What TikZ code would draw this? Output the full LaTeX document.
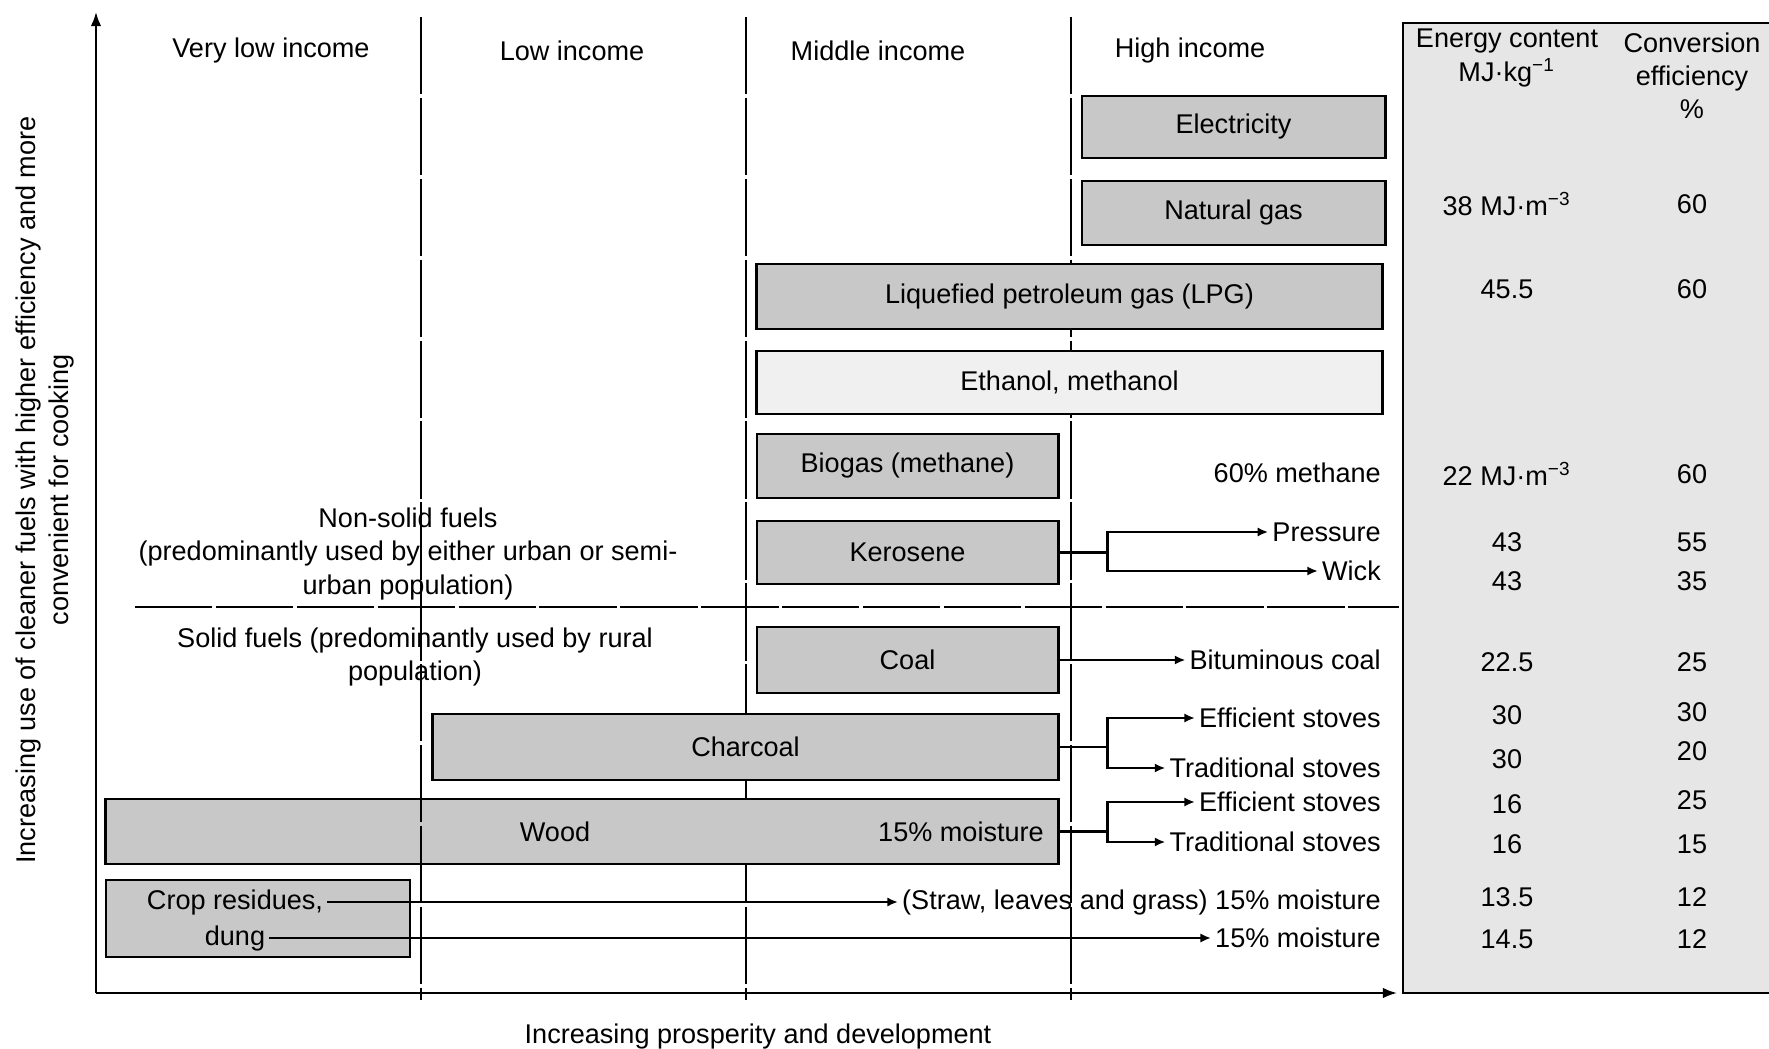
\documentclass[tikz,border=0pt]{standalone}
\usepackage{fontspec}
\setmainfont{Liberation Sans}
\usetikzlibrary{arrows.meta}
\definecolor{boxgray}{RGB}{200,200,200}
\definecolor{lightbox}{RGB}{240,240,240}
\definecolor{panelgray}{RGB}{230,230,230}
\begin{document}
\begin{tikzpicture}[x=0.01cm, y=-0.01cm,
  font=\fontsize{7.7}{9.4}\selectfont,
  fuel/.style={draw, line width=0.8pt, fill=boxgray, inner sep=0pt},
  txt/.style={inner sep=1pt, align=center},
  lbl/.style={inner sep=1pt, anchor=east},
  link/.style={line width=0.7pt},
  arr/.style={line width=0.7pt, -{Latex[length=3pt,width=2.6pt]}},
  sep/.style={line width=0.6pt, dash pattern=on 22pt off 1pt}]
\useasboundingbox (0,0) rectangle (1769,1049);

% value panel
\fill[panelgray] (1403,23) rectangle (1769,993);
\draw[line width=0.8pt] (1769,23) -- (1403,23) -- (1403,993) -- (1769,993);

% income bands
\draw[sep] (746,17) -- (746,1000);
\draw[sep] (1071,17) -- (1071,1000);
\draw[sep] (135,607) -- (1399,607);

% axes
\draw[line width=0.6pt, -{Latex[length=4pt,width=3pt]}] (96,993) -- (96,12);
\draw[line width=0.6pt, -{Latex[length=4pt,width=3pt]}] (96,993) -- (1397,993);

\node[txt] (vlow) at (271,51) {Very low income};
\node[txt] (low) at (572,51) {Low income};
\node[txt] (mid) at (878,51) {Middle income};
\node[txt] (high) at (1190,51) {High income};

% fuels
\node[fuel, minimum width=3.03cm, minimum height=0.62cm] (elec) at (1233.5,127) {Electricity};
\node[fuel, minimum width=3.03cm, minimum height=0.64cm] (ngas) at (1233.5,213) {Natural gas};
\node[fuel, minimum width=6.25cm, minimum height=0.65cm] (lpg) at (1069.5,296.5) {Liquefied petroleum gas (LPG)};
\node[fuel, fill=lightbox, minimum width=6.25cm, minimum height=0.63cm] (meth) at (1069.5,382.5) {Ethanol, methanol};
\node[fuel, minimum width=3.01cm, minimum height=0.64cm] (biogas) at (907.5,466) {Biogas (methane)};
\node[fuel, minimum width=3.01cm, minimum height=0.63cm] (kero) at (907.5,552.5) {Kerosene};
\node[fuel, minimum width=3.01cm, minimum height=0.66cm] (coal) at (907.5,660) {Coal};
\node[fuel, minimum width=6.25cm, minimum height=0.66cm] (charc) at (745.5,747) {Charcoal};
\node[fuel, minimum width=9.52cm, minimum height=0.65cm] (wood) at (582,831.5) {};
\node[txt] (woodt) at (555,832) {Wood};
\node[txt, anchor=east] (woodm) at (1048,832) {15\% moisture};
\node[fuel, minimum width=3.04cm, minimum height=0.77cm] (crop) at (258,918.5) {};
\node[txt] (cropt) at (235,902) {Crop residues,};
\node[txt] (dung) at (235,938) {dung};

\node[txt] (nonsolid) at (408,554) {Non-solid fuels\\(predominantly used by either urban or semi-\\urban population)};
\node[txt] (solid) at (415,657) {Solid fuels (predominantly used by rural\\population)};

% end uses
\node[lbl] (methane) at (1385,473) {60\% methane};
\node[lbl] (press) at (1385,532) {Pressure};
\node[lbl] (wick) at (1385,571) {Wick};
\node[lbl] (bitum) at (1385,660) {Bituminous coal};
\node[lbl] (ceff) at (1385,718) {Efficient stoves};
\node[lbl] (ctrad) at (1385,768) {Traditional stoves};
\node[lbl] (weff) at (1385,802) {Efficient stoves};
\node[lbl] (wtrad) at (1385,842) {Traditional stoves};
\node[lbl] (straw) at (1385,902) {(Straw, leaves and grass) 15\% moisture};
\node[lbl] (cmoist) at (1385,938) {15\% moisture};

\draw[link] (kero.east) -- ++(48,0) coordinate (kfork);
\draw[arr] (kfork) |- (press.west);
\draw[arr] (kfork) |- (wick.west);
\draw[arr] (coal.east) -- (bitum.west);
\draw[link] (charc.east) -- ++(48,0) coordinate (cfork);
\draw[arr] (cfork) |- (ceff.west);
\draw[arr] (cfork) |- (ctrad.west);
\draw[link] (wood.east) -- ++(48,0) coordinate (wfork);
\draw[arr] (wfork) |- (weff.west);
\draw[arr] (wfork) |- (wtrad.west);
\draw[arr] (cropt.east) -- (straw.west);
\draw[arr] (dung.east) -- (cmoist.west);

% values
\node[txt] (ehead) at (1507,58) {Energy content\\MJ·kg\textsuperscript{−1}};
\node[txt] (chead) at (1692,76) {Conversion\\efficiency\\\%};
\node[txt] (ev0) at (1507,204) {38 MJ·m\textsuperscript{−3}};
\node[txt] (cv0) at (1692,204) {60};
\node[txt] (ev1) at (1507,289) {45.5};
\node[txt] (cv1) at (1692,289) {60};
\node[txt] (ev2) at (1507,474) {22 MJ·m\textsuperscript{−3}};
\node[txt] (cv2) at (1692,474) {60};
\node[txt] (ev3) at (1507,542) {43};
\node[txt] (cv3) at (1692,542) {55};
\node[txt] (ev4) at (1507,581) {43};
\node[txt] (cv4) at (1692,581) {35};
\node[txt] (ev5) at (1507,662) {22.5};
\node[txt] (cv5) at (1692,662) {25};
\node[txt] (ev6) at (1507,715) {30};
\node[txt] (cv6) at (1692,712) {30};
\node[txt] (ev7) at (1507,759) {30};
\node[txt] (cv7) at (1692,751) {20};
\node[txt] (ev8) at (1507,804) {16};
\node[txt] (cv8) at (1692,800) {25};
\node[txt] (ev9) at (1507,844) {16};
\node[txt] (cv9) at (1692,844) {15};
\node[txt] (ev10) at (1507,897) {13.5};
\node[txt] (cv10) at (1692,897) {12};
\node[txt] (ev11) at (1507,939) {14.5};
\node[txt] (cv11) at (1692,939) {12};

\node[txt, rotate=90] (ylab) at (45,490) {Increasing use of cleaner fuels with higher efficiency and more\\convenient for cooking};
\node[txt] (xlab) at (758,1036) {Increasing prosperity and development};

\draw[sep] (421,17) -- (421,1000);

\end{tikzpicture}
\end{document}
